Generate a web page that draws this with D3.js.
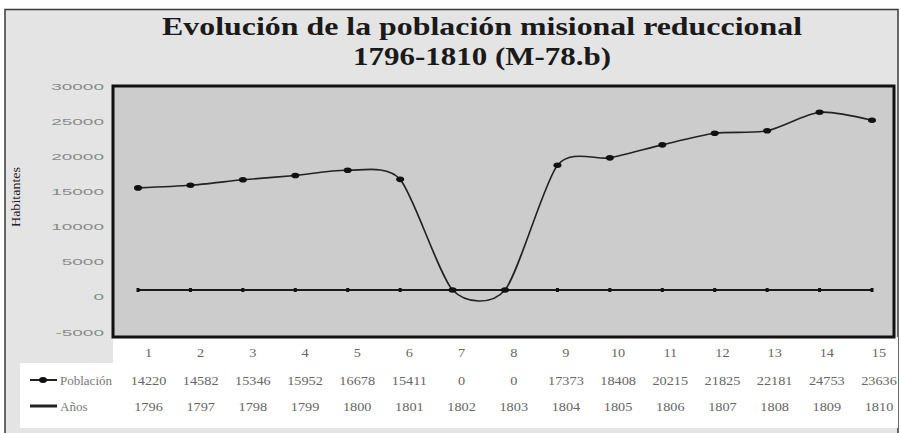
<html>
<head>
    <title>Evolución de la población misional reduccional</title>
    <script type="text/javascript" src="https://cdn.jsdelivr.net/npm/d3@7/dist/d3.min.js"></script>
    <style>
        body { margin: 0; background: white; }
    </style>
</head>
<body>
    <div id="chart"></div>

    <script>
        // ---- data ----
        var columns = ["1", "2", "3", "4", "5", "6", "7", "8", "9", "10", "11", "12", "13", "14", "15"];
        var poblacion = [14220, 14582, 15346, 15952, 16678, 15411, 0, 0, 17373, 18408, 20215, 21825, 22181, 24753, 23636];
        var anos = ["1796", "1797", "1798", "1799", "1800", "1801", "1802", "1803", "1804", "1805", "1806", "1807", "1808", "1809", "1810"];
        var yTicks = [-5000, 0, 5000, 10000, 15000, 20000, 25000, 30000];
        var seriesNames = ["Población", "Años"];
        var titleLines = ["Evolución de la población misional reduccional", "1796-1810 (M-78.b)"];

        var SERIF = "'Liberation Serif', 'Times New Roman', Times, serif";
        var SANS = "'Liberation Sans', Arial, sans-serif";

        var width = 901, height = 433;
        var plot = {left: 113, top: 86, right: 894, bottom: 337};

        var svg = d3.select("#chart").append("svg")
                    .attr("width", width)
                    .attr("height", height);

        // x: category points, table columns sit a little to the right in the scan
        var x = d3.scalePoint().domain(columns).range([138, 872]);
        var xTable = d3.scalePoint().domain(columns).range([148.5, 879]);

        // y: data scale fitted to the plotted points; tick labels drawn a bit lower in the scan
        var y = d3.scaleLinear().domain([-5000, 30000]).range([325.9, 74.6]);
        var yLabels = d3.scaleLinear().domain([-5000, 30000]).range([332, 86]);

        // outer frame
        svg.append("rect")
            .attr("x", 5).attr("y", 9.5)
            .attr("width", 893).attr("height", 430)
            .attr("fill", "#e4e4e4")
            .attr("stroke", "#3a3a3a")
            .attr("stroke-width", 1.5);

        // title
        var titleLen = [640, 258];
        titleLines.forEach(function(t, i){
            svg.append("text")
                .attr("font-family", SERIF)
                .attr("x", 482).attr("y", 35 + i * 30)
                .attr("text-anchor", "middle")
                .attr("font-size", 25)
                .attr("font-weight", "bold")
                .attr("fill", "#1a1a1a")
                .attr("textLength", titleLen[i])
                .attr("lengthAdjust", "spacingAndGlyphs")
                .text(t);
        });

        // white data-table area
        svg.append("rect")
            .attr("x", plot.left).attr("y", plot.bottom)
            .attr("width", 898 - plot.left).attr("height", 363 - plot.bottom)
            .attr("fill", "white");
        svg.append("rect")
            .attr("x", 20).attr("y", 363)
            .attr("width", 878).attr("height", 65)
            .attr("fill", "white");

        // plot area
        svg.append("rect")
            .attr("x", plot.left).attr("y", plot.top)
            .attr("width", plot.right - plot.left).attr("height", plot.bottom - plot.top)
            .attr("fill", "#cccccc")
            .attr("stroke", "#111")
            .attr("stroke-width", 3);

        // y axis labels (wide, light grey in the scan)
        var yAxis = d3.axisLeft(yLabels).tickValues(yTicks).tickSize(0).tickPadding(0)
                      .tickFormat(function(d){ return d; });
        var gy = svg.append("g")
            .attr("transform", "translate(104,0)")
            .call(yAxis);
        gy.select(".domain").remove();
        gy.selectAll("text")
            .attr("font-family", SANS)
            .attr("font-size", 9.5)
            .attr("fill", "#8a8a8a")
            .attr("x", 0)
            .attr("transform", "scale(2,1)");

        svg.append("text")
            .attr("font-family", SERIF)
            .attr("transform", "translate(20,197) rotate(-90)")
            .attr("text-anchor", "middle")
            .attr("font-size", 12)
            .attr("fill", "#222")
            .attr("textLength", 60)
            .attr("lengthAdjust", "spacingAndGlyphs")
            .text("Habitantes");

        // Años is a text row, so the spreadsheet plots it as zeros
        var anosPlotted = anos.map(function(a){ return typeof a === "string" ? 0 : a; });

        var anosLine = d3.line()
            .x(function(d, i){ return x(columns[i]); })
            .y(function(d){ return y(d); });
        svg.append("path")
            .attr("d", anosLine(anosPlotted))
            .attr("fill", "none")
            .attr("stroke", "#1a1a1a")
            .attr("stroke-width", 2.2);
        svg.selectAll(".anos-pt").data(anosPlotted).enter().append("rect")
            .attr("class", "anos-pt")
            .attr("x", function(d, i){ return x(columns[i]) - 1.5; })
            .attr("y", function(d){ return y(d) - 2; })
            .attr("width", 3).attr("height", 4)
            .attr("fill", "#111");

        var pobLine = d3.line()
            .x(function(d, i){ return x(columns[i]); })
            .y(function(d){ return y(d); })
            .curve(d3.curveCardinal.tension(0.25));
        svg.append("path")
            .attr("d", pobLine(poblacion))
            .attr("fill", "none")
            .attr("stroke", "#222")
            .attr("stroke-width", 1.6);
        svg.selectAll(".pob-pt").data(poblacion).enter().append("ellipse")
            .attr("class", "pob-pt")
            .attr("cx", function(d, i){ return x(columns[i]); })
            .attr("cy", function(d){ return y(d); })
            .attr("rx", 4).attr("ry", 2.8)
            .attr("fill", "#111");

        // data table
        function tableRow(values, yPos){
            svg.selectAll(null).data(values).enter().append("text")
                .attr("font-family", SERIF)
                .attr("transform", function(d, i){ return "translate(" + xTable(columns[i]) + "," + yPos + ") scale(1.1,1)"; })
                .attr("text-anchor", "middle")
                .attr("font-size", 13)
                .attr("fill", "#666")
                .text(function(d){ return d; });
        }
        tableRow(columns, 357);
        tableRow(poblacion, 385);
        tableRow(anos, 411);

        // legend keys in the table
        var keyY = [380, 406];
        seriesNames.forEach(function(name, i){
            svg.append("line")
                .attr("x1", 30).attr("x2", 57)
                .attr("y1", keyY[i]).attr("y2", keyY[i])
                .attr("stroke", "#222")
                .attr("stroke-width", i == 0 ? 2 : 3);
            if(i == 0)
                svg.append("ellipse").attr("cx", 43).attr("cy", keyY[i]).attr("rx", 4).attr("ry", 3).attr("fill", "#111");
            svg.append("text")
                .attr("font-family", SERIF)
                .attr("x", 60).attr("y", keyY[i] + 5)
                .attr("font-size", 13)
                .attr("fill", "#777")
                .text(name);
        });
    </script>
</body>
</html>
